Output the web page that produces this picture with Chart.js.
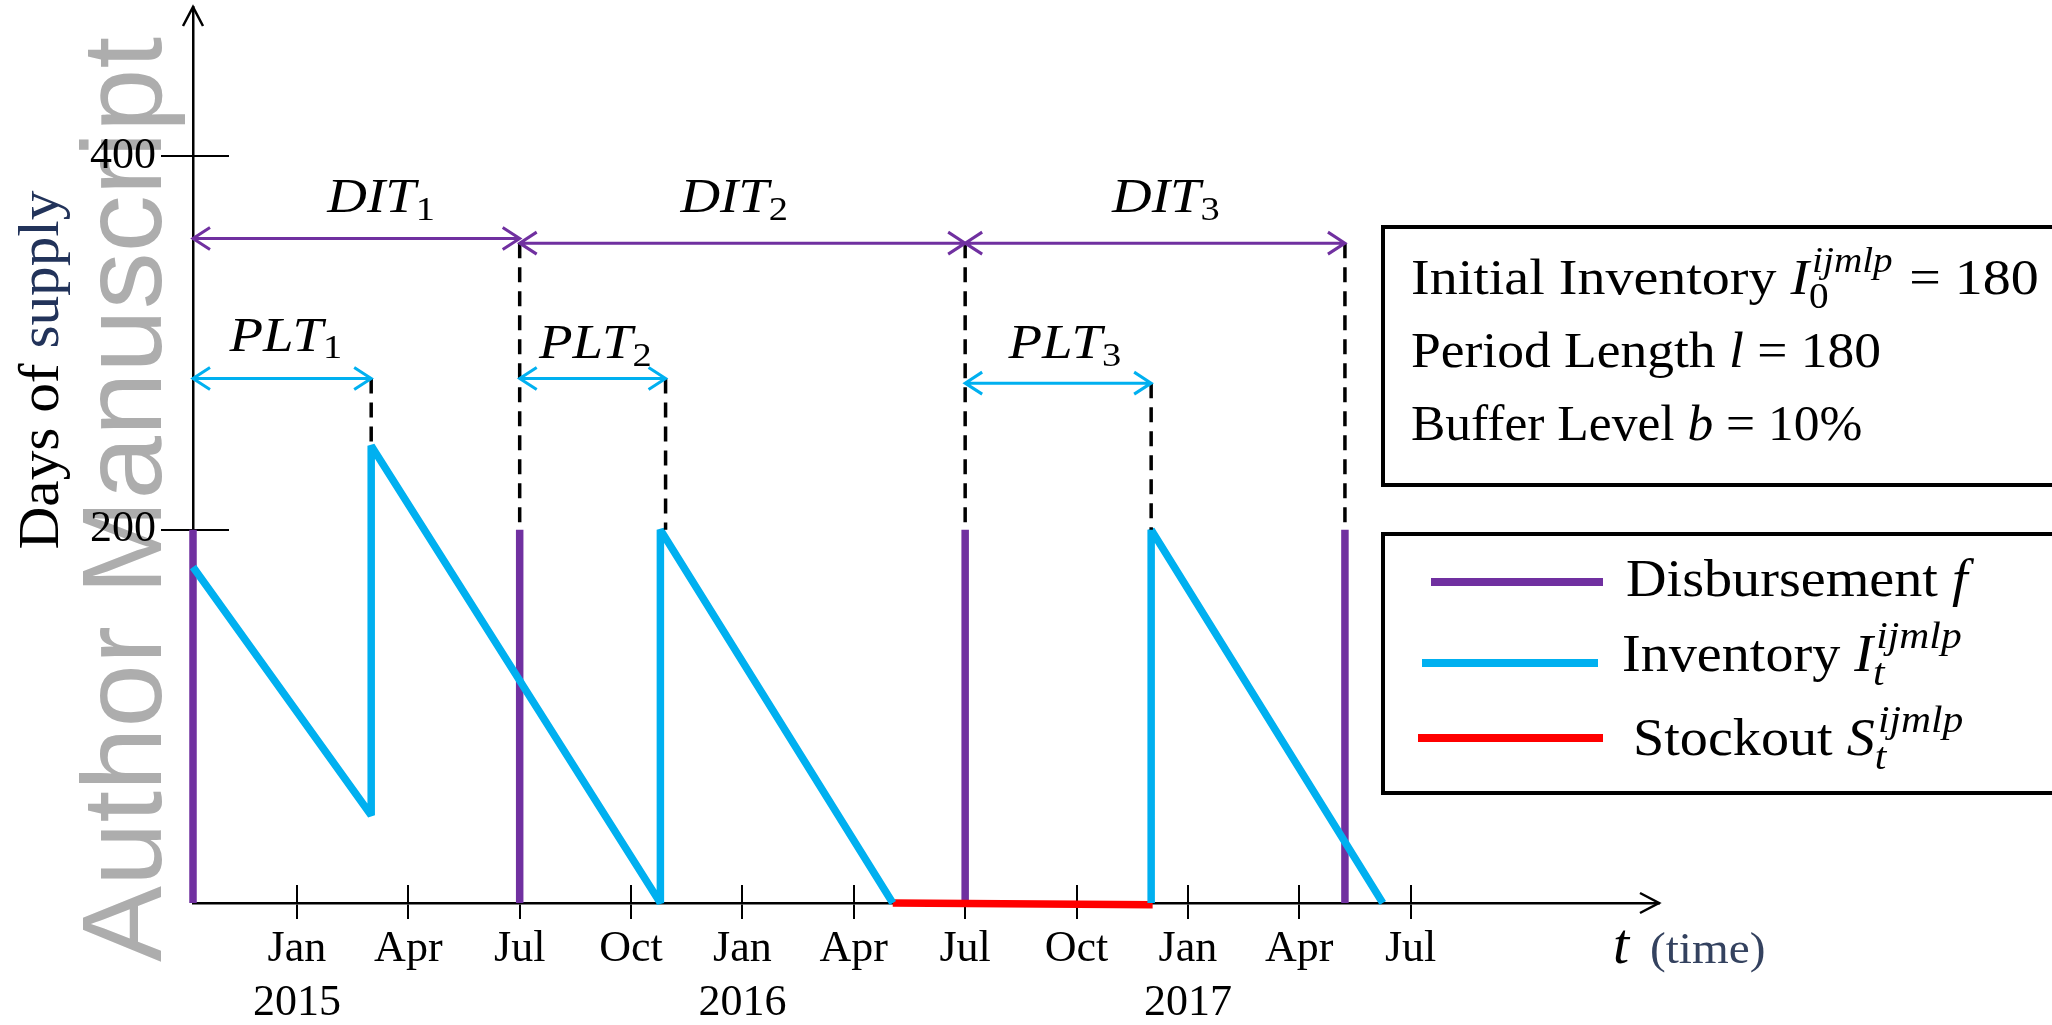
<!DOCTYPE html>
<html>
<head>
<meta charset="utf-8">
<title>Disbursement, inventory and stockout over time</title>
<script src="https://cdn.jsdelivr.net/npm/chart.js@4.4.1/dist/chart.umd.min.js"></script>
<style>
  html, body { margin: 0; padding: 0; background: #ffffff; }
  canvas { display: block; }
</style>
</head>
<body>
<canvas id="chart" width="2052" height="1025"></canvas>
<script>
// Time runs in months counted from 1 October 2014; values are days of supply.
const quarterTicks  = [3, 6, 9, 12, 15, 18, 21, 24, 27, 30, 33];
const quarterLabels = ['Jan', 'Apr', 'Jul', 'Oct', 'Jan', 'Apr', 'Jul', 'Oct', 'Jan', 'Apr', 'Jul'];
const yearLabels    = ['2015', '', '', '', '2016', '', '', '', '2017', '', ''];
const yTickValues   = [200, 400];

// Disbursements: month of each disbursement and the amount released
const disbMonths  = [0.2, 9, 21, 31.23];
const disbAmounts = [200, 200, 200, 200];

// Inventory path; repeated months are deliveries, null is the stockout gap
const invMonths = [0.2, 5.0, 5.0, 12.79, 12.79, 19.05, 26.01, 26.01, 26.01, 32.25];
const invDays   = [180, 47, 245, 0, 200, 0, null, 0, 200, 0];

// Stockout stretch
const stockMonths = [19.05, 26.05];
const stockDays   = [0, -1];

// Disbursement intervals (DIT) and procurement lead times (PLT)
const ditStart = [0.2, 9, 21];
const ditEnd   = [9, 21, 31.23];
const ditLevel = [356, 353.5, 353.5];
const pltStart = [0.2, 9, 21];
const pltEnd   = [5.0, 12.93, 26.01];
const pltLevel = [281, 281, 278.5];

// Dashed guides linking each interval end to the line below it
const guideMonths = [9, 21, 31.23, 5.0, 12.93, 26.01];
const guideFrom   = [200, 200, 200, 245, 200, 200];
const guideTo     = [353.5, 353.5, 353.5, 281, 281, 278.5];

const SERIF = "'Liberation Serif', 'Times New Roman', serif";
const SANS  = "'Liberation Sans', Arial, sans-serif";
const PURPLE = '#7030a0';
const CYAN   = '#00b0f0';
const RED    = '#ff0000';

function points(xs, ys) {
  return xs.map((x, i) => ({ x: x, y: ys[i] }));
}
function stems(xs, lows, highs) {
  const out = [];
  xs.forEach((x, i) => { out.push({ x: x, y: lows[i] }, { x: x, y: highs[i] }, { x: x, y: null }); });
  return out;
}

function fontStr(size, italic) {
  return (italic ? 'italic ' : '') + Math.round(size * 10) / 10 + 'px ' + SERIF;
}

// Text drawn slightly widened, in the proportions of a TeX face.
function wideText(ctx, text, x, y, sx) {
  ctx.save();
  ctx.translate(x, y);
  ctx.scale(sx, 1);
  ctx.fillText(text, 0, 0);
  ctx.restore();
}

// Draws a run list with simple math sub/superscripts; returns the width.
function drawRich(ctx, runs, x, y, size, align, sx, sc) {
  sc = sc || 0.7;
  sx = sx || 1;
  ctx.save();
  ctx.textBaseline = 'alphabetic';
  ctx.textAlign = 'left';
  const widths = runs.map(run => {
    if (run.t !== undefined) {
      ctx.font = fontStr(size, run.it);
      return ctx.measureText(run.t).width * sx;
    }
    let a = 0, b = 0;
    if (run.sup) { ctx.font = fontStr(size * sc, run.supIt); a = ctx.measureText(run.sup).width * sx + size * 0.06; }
    if (run.sub) { ctx.font = fontStr(size * sc, run.subIt); b = ctx.measureText(run.sub).width * sx; }
    return Math.max(a, b) + size * 0.05;
  });
  const total = widths.reduce((s, v) => s + v, 0);
  let cx = align === 'center' ? x - total / 2 : x;
  runs.forEach((run, i) => {
    ctx.fillStyle = run.color || '#000000';
    if (run.t !== undefined) {
      ctx.font = fontStr(size, run.it);
      wideText(ctx, run.t, cx, y, sx);
    } else {
      const both = run.sup && run.sub;
      if (run.sup) {
        ctx.font = fontStr(size * sc, run.supIt);
        wideText(ctx, run.sup, cx + size * 0.06, y - size * 0.45, sx);
      }
      if (run.sub) {
        ctx.font = fontStr(size * sc, run.subIt);
        wideText(ctx, run.sub, cx, y + size * (both ? 0.27 : 0.15), sx);
      }
    }
    cx += widths[i];
  });
  ctx.restore();
  return total;
}

function doubleArrow(ctx, x1, x2, y, color) {
  const hl = 17, hw = 11;
  ctx.save();
  ctx.strokeStyle = color;
  ctx.lineWidth = 3;
  ctx.lineJoin = 'miter';
  ctx.beginPath();
  ctx.moveTo(x1, y); ctx.lineTo(x2, y);
  ctx.moveTo(x1 + hl, y - hw); ctx.lineTo(x1, y); ctx.lineTo(x1 + hl, y + hw);
  ctx.moveTo(x2 - hl, y - hw); ctx.lineTo(x2, y); ctx.lineTo(x2 - hl, y + hw);
  ctx.stroke();
  ctx.restore();
}

const infoLines = [
  [{ t: 'Initial Inventory ' }, { t: 'I', it: true }, { sub: '0', sup: 'ijmlp', supIt: true }, { t: ' = 180' }],
  [{ t: 'Period Length ' }, { t: 'l', it: true }, { t: ' = 180' }],
  [{ t: 'Buffer Level ' }, { t: 'b', it: true }, { t: ' = 10%' }]
];
const infoWiden = [1.12, 1.07, 1.03];

const legendItems = [
  { dataset: 3, runs: [{ t: 'Disbursement ' }, { t: 'f', it: true }] },
  { dataset: 1, runs: [{ t: 'Inventory ' }, { t: 'I', it: true }, { sub: 't', subIt: true, sup: 'ijmlp', supIt: true }] },
  { dataset: 2, runs: [{ t: 'Stockout ' }, { t: 'S', it: true }, { sub: 't', subIt: true, sup: 'ijmlp', supIt: true }] }
];

const schematic = {
  id: 'schematic',
  beforeDraw(chart) {
    const ctx = chart.ctx;
    ctx.save();
    ctx.fillStyle = '#ffffff';
    ctx.fillRect(0, 0, chart.width, chart.height);
    // Vertical watermark along the left edge
    ctx.translate(161, 962);
    ctx.rotate(-Math.PI / 2);
    ctx.font = '114px ' + SANS;
    ctx.fillStyle = '#adadad';
    ctx.textBaseline = 'alphabetic';
    ctx.textAlign = 'left';
    ctx.fillText('Author Manuscript', 0, 0);
    ctx.restore();
  },
  beforeDatasetsDraw(chart) {
    const ctx = chart.ctx;
    const xs = chart.scales.x, ys = chart.scales.y;
    const area = chart.chartArea;
    ctx.save();
    ctx.strokeStyle = '#000000';
    ctx.lineWidth = 2;
    ctx.beginPath();
    // Tick marks continue inside the plot area
    quarterTicks.forEach(v => {
      const px = Math.round(xs.getPixelForValue(v));
      ctx.moveTo(px, area.bottom); ctx.lineTo(px, area.bottom - 18);
    });
    yTickValues.forEach(v => {
      const py = Math.round(ys.getPixelForValue(v));
      ctx.moveTo(area.left, py); ctx.lineTo(area.left + 36, py);
    });
    ctx.stroke();
    ctx.restore();
  },
  afterDraw(chart) {
    const ctx = chart.ctx;
    const xs = chart.scales.x, ys = chart.scales.y;
    const area = chart.chartArea;

    // Axis arrowheads
    ctx.save();
    ctx.strokeStyle = '#000000';
    ctx.lineWidth = 2.5;
    ctx.beginPath();
    ctx.moveTo(area.left - 10, area.top + 19); ctx.lineTo(area.left, area.top); ctx.lineTo(area.left + 10, area.top + 19);
    ctx.moveTo(area.right - 19, area.bottom - 10); ctx.lineTo(area.right, area.bottom); ctx.lineTo(area.right - 19, area.bottom + 10);
    ctx.stroke();
    ctx.restore();

    // Interval arrows and their labels
    const ditShift = [26, -7, 12];
    const pltShift = [5, 4, 8];
    ditStart.forEach((s, i) => {
      const x1 = xs.getPixelForValue(s), x2 = xs.getPixelForValue(ditEnd[i]);
      const y = ys.getPixelForValue(ditLevel[i]);
      doubleArrow(ctx, x1, x2, y, PURPLE);
      drawRich(ctx, [{ t: 'DIT', it: true }, { sub: String(i + 1) }], (x1 + x2) / 2 + ditShift[i], ys.getPixelForValue(370), 49, 'center', 1.12);
    });
    pltStart.forEach((s, i) => {
      const x1 = xs.getPixelForValue(s), x2 = xs.getPixelForValue(pltEnd[i]);
      const y = ys.getPixelForValue(pltLevel[i]);
      doubleArrow(ctx, x1, x2, y, CYAN);
      const base = i === 0 ? 295.7 : 291.7;
      drawRich(ctx, [{ t: 'PLT', it: true }, { sub: String(i + 1) }], (x1 + x2) / 2 + pltShift[i], ys.getPixelForValue(base), 49, 'center', 1.12);
    });

    // Y axis title
    ctx.save();
    ctx.translate(58, 370);
    ctx.rotate(-Math.PI / 2);
    ctx.scale(1.04, 1);
    ctx.textBaseline = 'alphabetic';
    ctx.textAlign = 'left';
    ctx.font = fontStr(57, false);
    const w1 = ctx.measureText('Days of ').width;
    const w2 = ctx.measureText('supply').width;
    const start = -(w1 + w2) / 2;
    ctx.fillStyle = '#000000';
    ctx.fillText('Days of ', start, 0);
    ctx.fillStyle = '#22335a';
    ctx.fillText('supply', start + w1, 0);
    ctx.restore();

    // X axis title
    ctx.save();
    ctx.textBaseline = 'alphabetic';
    ctx.textAlign = 'left';
    ctx.font = fontStr(58, true);
    ctx.fillStyle = '#000000';
    ctx.fillText('t', area.right - 46, area.bottom + 60);
    ctx.font = fontStr(45, false);
    ctx.fillStyle = '#34425f';
    wideText(ctx, '(time)', area.right - 9, area.bottom + 60, 1.05);
    ctx.restore();

    // Parameter box and legend frame
    const boxLeft = 1383;
    ctx.save();
    ctx.strokeStyle = '#000000';
    ctx.lineWidth = 4;
    ctx.strokeRect(boxLeft, 227, 720, 258);
    ctx.strokeRect(boxLeft, 534, 720, 259);
    ctx.restore();
    const infoBase = [294, 367, 440];
    infoLines.forEach((runs, i) => drawRich(ctx, runs, 1411, infoBase[i], 50, 'left', infoWiden[i]));

    // Legend
    const legendLine = [[1431, 1603, 582], [1422, 1598, 663], [1418, 1603, 738]];
    const legendText = [[1626, 596], [1622, 671], [1633, 755]];
    legendItems.forEach((item, i) => {
      const ds = chart.data.datasets[item.dataset];
      const [a, b, y] = legendLine[i];
      ctx.save();
      ctx.strokeStyle = ds.borderColor;
      ctx.lineWidth = 8;
      ctx.lineCap = 'butt';
      ctx.beginPath();
      ctx.moveTo(a, y); ctx.lineTo(b, y);
      ctx.stroke();
      ctx.restore();
      drawRich(ctx, item.runs, legendText[i][0], legendText[i][1], 52, 'left', 1.08, 0.74);
    });
  }
};

new Chart(document.getElementById('chart'), {
  type: 'line',
  data: {
    datasets: [
      {
        label: 'Interval guides',
        data: stems(guideMonths, guideTo, guideFrom),
        borderColor: '#000000',
        borderWidth: 3.5,
        borderDash: [15, 9],
        pointRadius: 0,
        spanGaps: false
      },
      {
        label: 'Inventory',
        data: points(invMonths, invDays),
        borderColor: CYAN,
        borderWidth: 7.5,
        borderJoinStyle: 'bevel',
        pointRadius: 0,
        tension: 0,
        spanGaps: false
      },
      {
        label: 'Stockout',
        data: points(stockMonths, stockDays),
        borderColor: RED,
        borderWidth: 7.5,
        pointRadius: 0
      },
      {
        label: 'Disbursement',
        data: stems(disbMonths, disbMonths.map(() => 0), disbAmounts),
        borderColor: PURPLE,
        borderWidth: 7.5,
        pointRadius: 0,
        spanGaps: false
      }
    ]
  },
  options: {
    responsive: false,
    animation: false,
    events: [],
    clip: false,
    layout: { padding: { left: 0, top: 7, right: 393, bottom: 0 } },
    plugins: { legend: { display: false }, tooltip: { enabled: false } },
    scales: {
      x: {
        type: 'linear',
        min: 0.2,
        max: 39.69,
        afterBuildTicks: s => { s.ticks = quarterTicks.map(v => ({ value: v })); },
        afterFit: s => { s.height = 122; s.paddingLeft = 0; s.paddingRight = 0; },
        ticks: {
          autoSkip: false,
          maxRotation: 0,
          minRotation: 0,
          padding: 3,
          color: '#000000',
          font: { family: SERIF, size: 44, lineHeight: 54 / 44 },
          callback: v => {
            const i = quarterTicks.indexOf(v);
            if (i < 0) return '';
            return yearLabels[i] ? [quarterLabels[i], yearLabels[i]] : quarterLabels[i];
          }
        },
        grid: { display: true, drawOnChartArea: false, drawTicks: true, tickLength: 16, color: '#000000', lineWidth: 2 },
        border: { display: true, color: '#000000', width: 2.5 }
      },
      y: {
        type: 'linear',
        min: 0,
        max: 480,
        afterBuildTicks: s => { s.ticks = yTickValues.map(v => ({ value: v })); },
        afterFit: s => { s.width = 193; s.paddingTop = 0; s.paddingBottom = 0; },
        ticks: {
          padding: 5,
          color: '#000000',
          font: { family: SERIF, size: 44 },
          callback: v => String(v)
        },
        grid: { display: true, drawOnChartArea: false, drawTicks: true, tickLength: 32, color: '#000000', lineWidth: 2 },
        border: { display: true, color: '#000000', width: 2.5 }
      }
    }
  },
  plugins: [schematic]
});
</script>
</body>
</html>
